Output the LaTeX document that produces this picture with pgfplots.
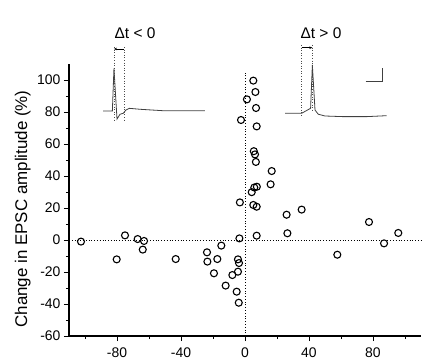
\documentclass[border=0pt]{standalone}
\usepackage{fontspec}
\setmainfont{Liberation Sans}
\usepackage{pgfplots}
\pgfplotsset{compat=1.18}
\usetikzlibrary{arrows.meta}
\begin{document}
\begin{tikzpicture}
\begin{axis}[
  scale only axis, width=352bp, height=272bp,
  xmin=-110, xmax=110, ymin=-60, ymax=110,
  axis x line=bottom, axis y line=left,
  axis line style={-, line width=1.2bp, black},
  xtick={-80,-40,0,40,80}, ytick={-60,-40,...,100},
  minor xtick={-100,-60,-20,20,60,100}, minor ytick={-50,-30,...,90},
  tick align=outside, major tick length=5bp, minor tick length=3bp,
  every tick/.style={line width=0.9bp, black},
  ticklabel style={font=\fontsize{14}{16}\selectfont},
  xticklabel style={yshift=-3bp},
  /pgf/number format/assume math mode=true,
  clip=false,
  ylabel={Change in EPSC amplitude (\%)},
  ylabel style={font=\fontsize{17}{20}\selectfont, at={(axis description cs:-0.119,0.467)}, anchor=base},
]
% dotted reference lines
\addplot[black, dotted, line width=0.8bp] coordinates {(0,-60) (0,105)};
\addplot[black, dotted, line width=0.8bp] coordinates {(-110,0) (110,0)};
% data
\addplot[only marks, mark=o, mark size=3.5bp, mark options={line width=1.1bp, black}] coordinates {
(-102.5,-1.0) (-80.2,-12.1) (-75,2.9) (-67.1,0.6) (-63.1,-0.6) (-63.9,-6.0)
(-43.3,-11.9) (-23.75,-7.7) (-23.5,-13.5) (-14.8,-3.5) (-17.3,-11.9) (-19.4,-20.8)
(-12.1,-28.5) (-7.9,-21.9) (-4.4,-12.1) (-3.75,-14.4) (-4.4,-19.8) (-5.2,-32.3)
(-3.9,-39.2) (-3.5,1.0) (-2.5,75) (-3.2,23.5)
(7.3,2.7) (26.5,4.2) (57.7,-9.2) (86.9,-2.1) (95.8,4.4)
(5.2,99.6) (6.5,92.5) (1.2,87.9) (6.9,82.5) (7.3,71)
(5.5,55.5) (6.25,53.5) (6.8,48.8) (16.7,43.1) (16,34.8)
(5.8,32.8) (7.4,33.3) (4.2,29.9) (5.2,21.9) (7.3,20.8)
(26,15.8) (35.4,19) (77.5,11.25)
};
% left inset trace
\addplot[black!75, line width=0.8bp, sharp plot] coordinates {
(-88.6,80.6) (-82.9,80.6) (-81.9,107.3) (-80,75.6) (-78.1,78.6) (-76.1,79.2)
(-74.4,81.25) (-72.3,82.3) (-65.6,81.7) (-51.1,80.8) (-25,80.8)
};
\addplot[black!70, dotted, line width=0.6bp] coordinates {(-81.9,120.6) (-81.9,74)};
\addplot[black!70, dotted, line width=0.6bp] coordinates {(-75.6,120.6) (-75.6,74)};
\draw[-{Stealth[length=3bp,width=2.5bp]}, line width=0.6bp] (axis cs:-75.6,119.4) -- (axis cs:-81.9,119.4);
\node[font=\fontsize{15.5}{18}\selectfont] at (axis cs:-68.7,129.4) {Δt < 0};
% right inset trace
\addplot[black!75, line width=0.8bp, sharp plot] coordinates {
(25,79.2) (35.4,79.2) (41.0,82.3) (42.1,109.4) (43.75,81.25) (45.8,78.6)
(50,77.5) (61.4,77.1) (76,77.1) (88.5,77.7)
};
\addplot[black!70, dotted, line width=0.6bp] coordinates {(35.4,121.9) (35.4,78.1)};
\addplot[black!70, dotted, line width=0.6bp] coordinates {(42.1,121.9) (42.1,80)};
\draw[-{Stealth[length=3bp,width=2.5bp]}, line width=0.6bp] (axis cs:35.4,120.2) -- (axis cs:42.1,120.2);
\node[font=\fontsize{15.5}{18}\selectfont] at (axis cs:47.5,129.2) {Δt > 0};
% scale bar
\addplot[black!75, line width=0.8bp] coordinates {(75.4,98.9) (85.8,98.9) (85.8,107.3)};
\coordinate (bl) at (axis cs:-153.125,-75.625);
\coordinate (tr) at (axis cs:116.25,150);
\end{axis}
\pgfresetboundingbox
\path[use as bounding box] (bl) rectangle (tr);
\end{tikzpicture}
\end{document}
